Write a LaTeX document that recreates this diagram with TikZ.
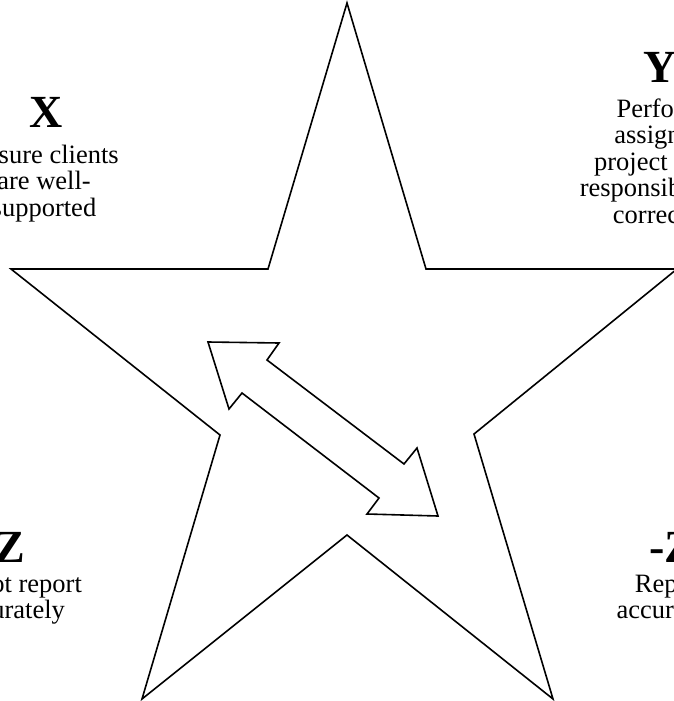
\documentclass[tikz,border=0pt]{standalone}
\usepackage{fontspec}
\setmainfont{Liberation Serif}
\usetikzlibrary{calc}

\begin{document}
\begin{tikzpicture}[
  x=1pt, y=-1pt,
  outline/.style={draw=black, line width=1.6pt, line join=miter},
  head/.style={font=\fontsize{46}{46}\selectfont\bfseries, anchor=base, inner sep=0pt},
  note/.style={font=\fontsize{26.5}{26.5}\selectfont, align=center, anchor=base, inner sep=0pt}
]
\useasboundingbox (0,0) rectangle (674,701);
\clip (0,0) rectangle (674,701);

% ---------------- the star ----------------
\coordinate (tipN)    at (347,3);
\coordinate (innerNE) at (426,269);
\coordinate (tipE)    at (677,269);
\coordinate (innerSE) at (474,434);
\coordinate (tipSE)   at (553,699);
\coordinate (innerS)  at (347,535);
\coordinate (tipSW)   at (142,699);
\coordinate (innerSW) at (220,435);
\coordinate (tipW)    at (11,269);
\coordinate (innerNW) at (268,269);
\draw[outline] (tipN) -- (innerNE) -- (tipE) -- (innerSE) -- (tipSE) -- (innerS)
  -- (tipSW) -- (innerSW) -- (tipW) -- (innerNW) -- cycle;

% ---------------- two-way arrow in the middle ----------------
\draw[outline] (208,342) -- (279,343) -- (267,360) -- (404,464) -- (417,448)
  -- (438,516) -- (367,514) -- (379,498) -- (242,393) -- (229,409) -- cycle;

% ---------------- the four corners ----------------
% (base of a note is the baseline of its last line)
\node[head] (xhead) at (46,127) {X};
\node[note] (xnote) at (44,216) {Ensure clients\\are well-\\supported};

\node[head] (yhead) at (660,82) {Y};
\node[note] (ynote) at (660,223) {Perform\\assigned\\project team\\responsibilities\\correctly};

\node[head] (zhead) at (10,562) {Z};
\node[note] (znote) at (10.5,618.5) {Do not report\\accurately};

\node[head] (nzhead) at (672,562) {-Z};
\node[note] (nznote) at (671,618.5) {Report\\accurately};

\end{tikzpicture}
\end{document}
